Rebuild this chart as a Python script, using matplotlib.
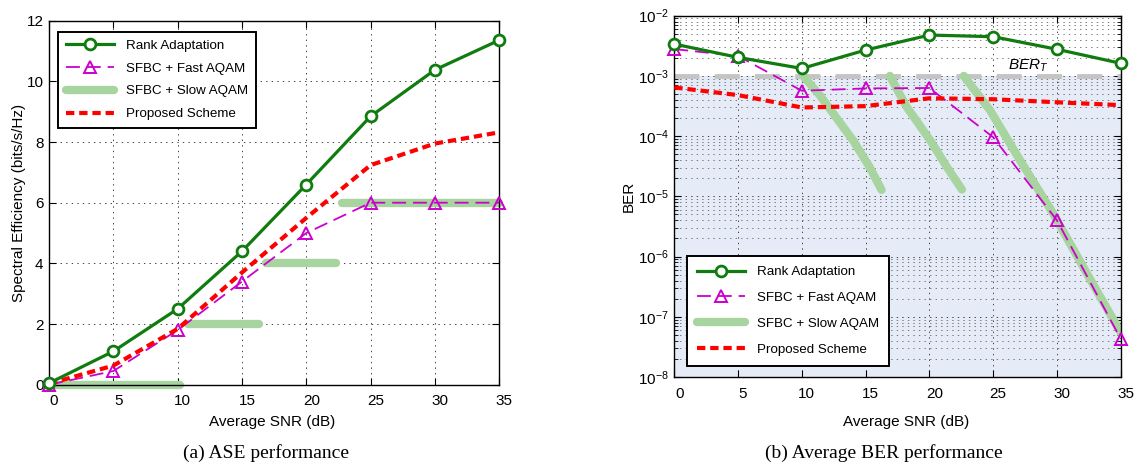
import matplotlib
matplotlib.use('Agg')
import matplotlib.pyplot as plt
import matplotlib.transforms as mtransforms
from matplotlib.lines import Line2D
import numpy as np

# ---------------- data ----------------
snr = [0, 5, 10, 15, 20, 25, 30, 35]
x_ticks = [0, 5, 10, 15, 20, 25, 30, 35]
ase_y_ticks = [0, 2, 4, 6, 8, 10, 12]

series_labels = ['Rank Adaptation', 'SFBC + Fast AQAM', 'SFBC + Slow AQAM', 'Proposed Scheme']

# (a) ASE
ase_rank = [0.05, 1.1, 2.5, 4.4, 6.6, 8.85, 10.38, 11.36]
ase_fast = [0.0, 0.45, 1.8, 3.4, 5.0, 6.0, 6.0, 6.0]
ase_prop = [0.03, 0.63, 1.84, 3.7, 5.5, 7.24, 7.95, 8.32]
ase_slow_x = [[0, 10.2], [10.8, 16.3], [16.9, 22.3], [22.8, 35]]
ase_slow_y = [[0, 0], [2, 2], [4, 4], [6, 6]]

# (b) BER
ber_rank = [3.38e-3, 2.03e-3, 1.33e-3, 2.69e-3, 4.77e-3, 4.48e-3, 2.77e-3, 1.62e-3]
ber_fast = [2.79e-3, 2.14e-3, 5.67e-4, 6.2e-4, 6.3e-4, 9.6e-5, 4.0e-6, 4.3e-8]
ber_prop = [6.44e-4, 4.8e-4, 2.99e-4, 3.15e-4, 4.25e-4, 4.1e-4, 3.65e-4, 3.27e-4]
ber_slow_x = [[10.1, 11.4, 14.0, 15.3, 16.25],
              [16.9, 18.2, 20.05, 21.36, 22.55],
              [22.7, 24.75, 27.1, 29.7, 32.5, 35]]
ber_slow_y = [[1e-3, 4.8e-4, 8.6e-5, 3.1e-5, 1.28e-5],
              [1e-3, 3.1e-4, 8.6e-5, 3.1e-5, 1.3e-5],
              [1e-3, 2.7e-4, 4e-5, 5.2e-6, 4.6e-7, 5.5e-8]]
ber_target = 1e-3

# ---------------- style ----------------
plt.rcParams['font.family'] = ['Liberation Sans', 'DejaVu Sans']
plt.rcParams['mathtext.fontset'] = 'custom'
plt.rcParams['mathtext.rm'] = 'Liberation Sans'
plt.rcParams['mathtext.it'] = 'Liberation Sans:italic'
plt.rcParams['mathtext.default'] = 'regular'
plt.rcParams['lines.scale_dashes'] = False

GREEN = '#107c10'
MAG = '#cc00cc'
LIGHT = '#a8d59f'
RED = '#ff0000'
FS = 11
LFS = 9.6

fig = plt.figure(figsize=(11.39, 4.63), dpi=100)
ax1 = fig.add_axes([49 / 1139, 1 - 384.7 / 463, 450.3 / 1139, 364 / 463])
ax2 = fig.add_axes([674.3 / 1139, 1 - 377 / 463, 446.4 / 1139, 361.3 / 463])

rank_kw = dict(color=GREEN, lw=2.3, marker='o', ms=7.8, mfc='white', mec=GREEN, mew=2.0)
fast_kw = dict(color=MAG, lw=1.3, dashes=(10, 5), marker='^', ms=9, mfc='none', mec=MAG, mew=1.4)
slow_kw = dict(color=LIGHT, lw=6, solid_capstyle='round')
prop_kw = dict(color=RED, lw=3, dashes=(6, 3.5), dash_capstyle='butt')


def style_axes(ax):
    ax.tick_params(direction='in', top=True, right=True, labelsize=FS, length=5,
                   width=0.8, pad=4)
    ax.tick_params(axis='x', pad=7)
    for sp in ax.spines.values():
        sp.set_linewidth(1.0)
    ax.set_axisbelow(True)


def offset_xlabels(ax):
    off = mtransforms.ScaledTranslation(5 / 100, 0, fig.dpi_scale_trans)
    for lab in ax.get_xticklabels():
        lab.set_transform(lab.get_transform() + off)


def make_legend(ax, **kw):
    handles = [Line2D([], [], **rank_kw), Line2D([], [], **fast_kw),
               Line2D([], [], **slow_kw), Line2D([], [], **prop_kw)]
    leg = ax.legend(handles, series_labels, fontsize=LFS, fancybox=False, shadow=False,
                    framealpha=1, edgecolor='black', handlelength=3.6,
                    handletextpad=0.9, borderaxespad=0, **kw)
    leg.get_frame().set_linewidth(1.4)
    return leg


# ---------------- (a) ASE ----------------
for xs, ys in zip(ase_slow_x, ase_slow_y):
    ax1.plot(xs, ys, clip_on=False, zorder=2, **slow_kw)
ax1.plot(snr, ase_fast, zorder=3, clip_on=False, **fast_kw)
ax1.plot(snr, ase_prop, zorder=4, **prop_kw)
ax1.plot(snr, ase_rank, zorder=5, clip_on=False, **rank_kw)

ax1.set_xlim(0, 35)
ax1.set_ylim(0, 12)
ax1.set_xticks(x_ticks)
ax1.set_yticks(ase_y_ticks)
style_axes(ax1)
ax1.grid(True, linestyle=(0, (1, 3)), color='#444444', lw=0.7)
offset_xlabels(ax1)
ax1.set_xlabel('Average SNR (dB)', fontsize=FS)
ax1.set_ylabel('Spectral Efficiency (bits/s/Hz)', fontsize=FS)
ax1.xaxis.set_label_coords(0.495, -0.083)
ax1.yaxis.set_label_coords(-0.052, 0.5)
make_legend(ax1, loc='upper left', bbox_to_anchor=(0.0207, 0.9698),
            labelspacing=0.78, borderpad=0.6)

# ---------------- (b) BER ----------------
ax2.set_yscale('log')
ax2.axhspan(1e-8, ber_target, color='#e6ecf7', zorder=0, lw=0)
ax2.axhline(ber_target, color='#c4c4c4', lw=3.5, dashes=(18, 11), zorder=1)
for xs, ys in zip(ber_slow_x, ber_slow_y):
    ax2.plot(xs, ys, zorder=2, **slow_kw)
ax2.plot(snr, ber_fast, zorder=3, clip_on=False, **fast_kw)
ax2.plot(snr, ber_prop, zorder=4, **prop_kw)
ax2.plot(snr, ber_rank, zorder=5, clip_on=False, **rank_kw)

ax2.set_xlim(0, 35)
ax2.set_ylim(1e-8, 1e-2)
ax2.set_xticks(x_ticks)
style_axes(ax2)
ax2.tick_params(which='minor', direction='in', right=True, length=3, width=0.6)
ax2.grid(True, which='major', linestyle=(0, (1, 3)), color='#444444', lw=0.7)
ax2.grid(True, which='minor', axis='y', linestyle=(0, (1, 3)), color='#666666', lw=0.6)
offset_xlabels(ax2)
ax2.set_xlabel('Average SNR (dB)', fontsize=FS)
ax2.set_ylabel('BER', fontsize=FS)
ax2.xaxis.set_label_coords(0.52, -0.106)
ax2.yaxis.set_label_coords(-0.087, 0.5)
ax2.text(26.2, 1.45e-3, r'$\mathit{BER}_{\mathit{T}}$', fontsize=FS, ha='left', va='center')
make_legend(ax2, loc='lower left', bbox_to_anchor=(0.0291, 0.0304),
            labelspacing=1.02, borderpad=0.75)

# ---------------- captions ----------------
fig.text(265.9 / 1139, 1 - 453 / 463, '(a) ASE performance', ha='center', va='center',
         fontsize=14, family='Liberation Serif')
fig.text(884.1 / 1139, 1 - 453 / 463, '(b) Average BER performance', ha='center', va='center',
         fontsize=14, family='Liberation Serif')

fig.savefig('out.png', dpi=100)
